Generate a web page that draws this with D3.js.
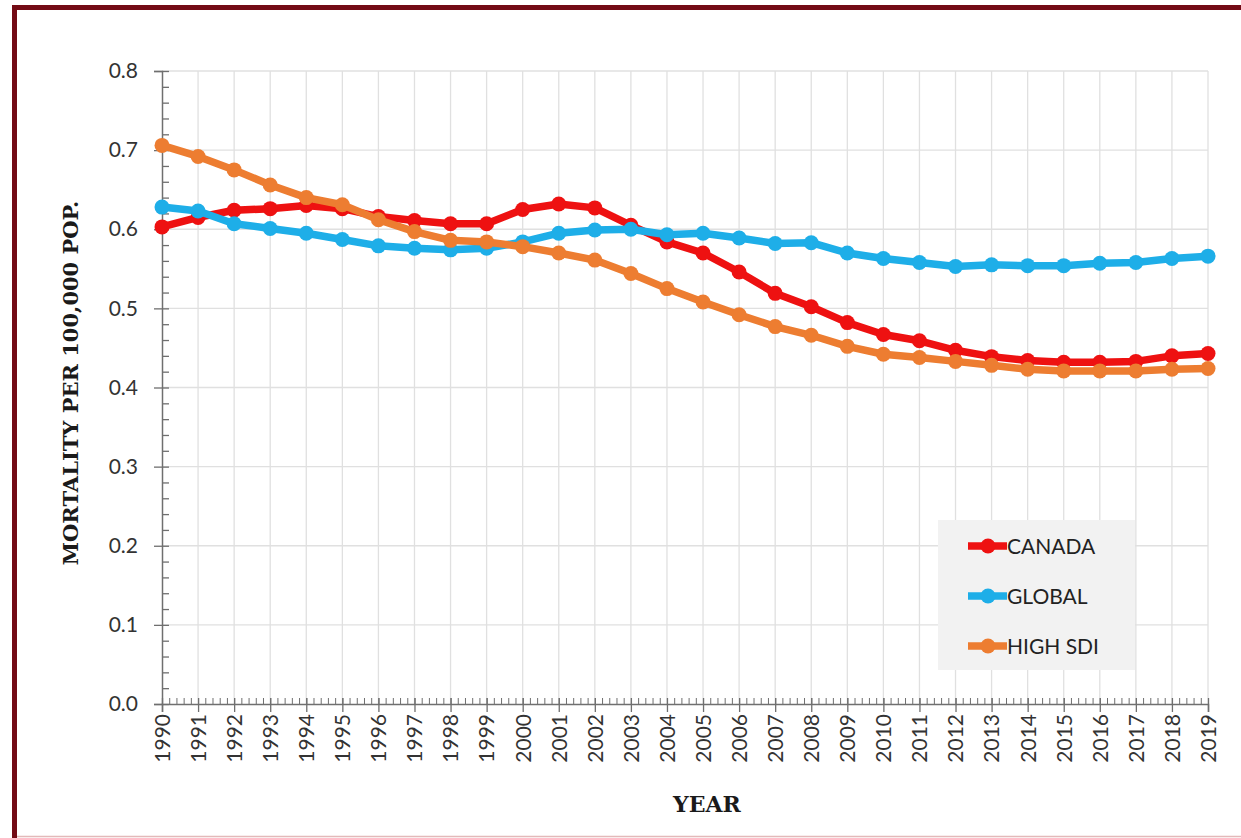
<!DOCTYPE html>
<html>
<head>
<meta charset="utf-8">
<script src="https://cdn.jsdelivr.net/npm/d3@7"></script>
<style>
  body { margin: 0; background: #fff; }
  svg { display: block; }
</style>
</head>
<body>
<div id="chart"></div>
<script>
// data
const years = d3.range(1990, 2020);
const canada = [0.603, 0.615, 0.624, 0.626, 0.630, 0.626, 0.616, 0.611, 0.607, 0.607,
                0.625, 0.632, 0.627, 0.605, 0.584, 0.570, 0.546, 0.519, 0.502, 0.482,
                0.467, 0.459, 0.447, 0.439, 0.434, 0.432, 0.432, 0.433, 0.440, 0.443];
const global = [0.628, 0.623, 0.607, 0.601, 0.595, 0.587, 0.579, 0.576, 0.574, 0.576,
                0.584, 0.595, 0.599, 0.600, 0.593, 0.595, 0.589, 0.582, 0.583, 0.570,
                0.563, 0.558, 0.553, 0.555, 0.554, 0.554, 0.557, 0.558, 0.563, 0.566];
const highSdi = [0.706, 0.692, 0.675, 0.656, 0.640, 0.631, 0.612, 0.597, 0.586, 0.584,
                 0.578, 0.570, 0.561, 0.544, 0.525, 0.508, 0.492, 0.477, 0.466, 0.452,
                 0.442, 0.438, 0.433, 0.428, 0.423, 0.421, 0.421, 0.421, 0.423, 0.424];
const seriesNames = ["CANADA", "GLOBAL", "HIGH SDI"];
const seriesColors = ["#ee1111", "#1eaee8", "#ed7d31"];
const yTicks = [0, 0.1, 0.2, 0.3, 0.4, 0.5, 0.6, 0.7, 0.8];

const W = 1241, H = 838;
const svg = d3.select("#chart").append("svg")
    .attr("width", W)
    .attr("height", H);

// frame
svg.append("rect")
    .attr("x", 14.5).attr("y", 7.5)
    .attr("width", W + 20).attr("height", H + 20)
    .attr("fill", "#fff")
    .attr("stroke", "#730b15")
    .attr("stroke-width", 5);
svg.append("line")
    .attr("x1", 17).attr("x2", W)
    .attr("y1", 836.5).attr("y2", 836.5)
    .attr("stroke", "#e3b9b9").attr("stroke-width", 1.5);

const x = d3.scaleLinear().domain([1990, 2019]).range([162, 1208]);
const y = d3.scaleLinear().domain([0, 0.8]).range([704, 71]);

// grid
const grid = svg.append("g");
grid.selectAll("line.h")
    .data(yTicks.slice(1))
    .enter().append("line")
    .attr("x1", x(1990)).attr("x2", x(2019))
    .attr("y1", d => y(d)).attr("y2", d => y(d))
    .attr("stroke", "#e0e0e0").attr("stroke-width", 1.3);
grid.selectAll("line.v")
    .data(years.slice(1))
    .enter().append("line")
    .attr("x1", d => x(d)).attr("x2", d => x(d))
    .attr("y1", y(0.8)).attr("y2", y(0))
    .attr("stroke", "#e0e0e0").attr("stroke-width", 1.3);

// y axis: minor ticks inside, major ticks crossing
const axisColor = "#6f6f6f";
const yMinor = d3.range(0, 0.8001, 0.02);
svg.append("g")
    .attr("transform", `translate(${x(1990)},0)`)
    .call(d3.axisRight(y).tickValues(yMinor).tickSize(7).tickFormat(""))
    .call(g => g.select(".domain").remove())
    .call(g => g.selectAll("line").attr("stroke", axisColor).attr("stroke-width", 1.3));
svg.append("g")
    .attr("transform", `translate(${x(1990)},0)`)
    .call(d3.axisLeft(y).tickValues(yTicks).tickSize(8).tickPadding(16).tickFormat(d3.format(".1f")))
    .call(g => g.select(".domain").attr("stroke", axisColor).attr("stroke-width", 1.5))
    .call(g => g.selectAll("line").attr("stroke", axisColor).attr("stroke-width", 1.3))
    .call(g => g.selectAll("text")
        .attr("font-family", "Lato, sans-serif")
        .attr("font-size", 21)
        .attr("fill", "#333"));

// x axis: minor ticks up, major ticks crossing
const xMinor = d3.range(1990, 2019.001, 0.2);
svg.append("g")
    .attr("transform", `translate(0,${y(0)})`)
    .call(d3.axisTop(x).tickValues(xMinor).tickSize(6).tickFormat(""))
    .call(g => g.select(".domain").remove())
    .call(g => g.selectAll("line").attr("stroke", axisColor).attr("stroke-width", 1));
svg.append("g")
    .attr("transform", `translate(0,${y(0)})`)
    .call(d3.axisTop(x).tickValues(years).tickSize(6).tickFormat(""))
    .call(g => g.select(".domain").remove())
    .call(g => g.selectAll("line").attr("stroke", axisColor).attr("stroke-width", 1.3));
svg.append("g")
    .attr("transform", `translate(0,${y(0)})`)
    .call(d3.axisBottom(x).tickValues(years).tickSize(8).tickFormat(d3.format("d")))
    .call(g => g.select(".domain").attr("stroke", axisColor).attr("stroke-width", 1.5))
    .call(g => g.selectAll("line").attr("stroke", axisColor).attr("stroke-width", 1.3))
    .call(g => g.selectAll("text")
        .attr("font-family", "Lato, sans-serif")
        .attr("font-size", 21)
        .attr("fill", "#333")
        .attr("text-anchor", "end")
        .attr("dy", "0.35em")
        .attr("transform", "translate(0,10) rotate(-90)")
        .attr("x", 0).attr("y", 0));

// axis titles
svg.append("text")
    .attr("transform", `translate(78,383) rotate(-90)`)
    .attr("text-anchor", "middle")
    .attr("font-family", "'DejaVu Serif', serif")
    .attr("font-weight", "bold")
    .attr("font-size", 21)
    .attr("fill", "#1a1a1a")
    .text("MORTALITY PER 100,000 POP.");
svg.append("text")
    .attr("x", 707).attr("y", 812)
    .attr("text-anchor", "middle")
    .attr("font-family", "'DejaVu Serif', serif")
    .attr("font-weight", "bold")
    .attr("font-size", 22)
    .attr("fill", "#1a1a1a")
    .text("YEAR");

// series
const allSeries = [canada, global, highSdi];
const line = d3.line().x((d, i) => x(years[i])).y(d => y(d));
allSeries.forEach((vals, k) => {
    const g = svg.append("g");
    g.append("path")
        .datum(vals)
        .attr("d", line)
        .attr("fill", "none")
        .attr("stroke", seriesColors[k])
        .attr("stroke-width", 7.5)
        .attr("stroke-linejoin", "round");
    g.selectAll("circle")
        .data(vals)
        .enter().append("circle")
        .attr("cx", (d, i) => x(years[i]))
        .attr("cy", d => y(d))
        .attr("r", 7.5)
        .attr("fill", seriesColors[k]);
});

// legend
const legend = svg.append("g");
legend.append("rect")
    .attr("x", 938).attr("y", 520)
    .attr("width", 197).attr("height", 150)
    .attr("fill", "#f2f2f2");
const item = legend.selectAll("g.item")
    .data(seriesNames)
    .enter().append("g")
    .attr("transform", (d, i) => `translate(0,${546 + i * 50})`);
item.append("line")
    .attr("x1", 968).attr("x2", 1007)
    .attr("stroke", (d, i) => seriesColors[i])
    .attr("stroke-width", 7.5);
item.append("circle")
    .attr("cx", 988).attr("r", 7.5)
    .attr("fill", (d, i) => seriesColors[i]);
item.append("text")
    .attr("x", 1007).attr("dy", "0.36em")
    .attr("font-family", "Lato, sans-serif")
    .attr("font-size", 21)
    .attr("fill", "#222")
    .text(d => d);
</script>
</body>
</html>
